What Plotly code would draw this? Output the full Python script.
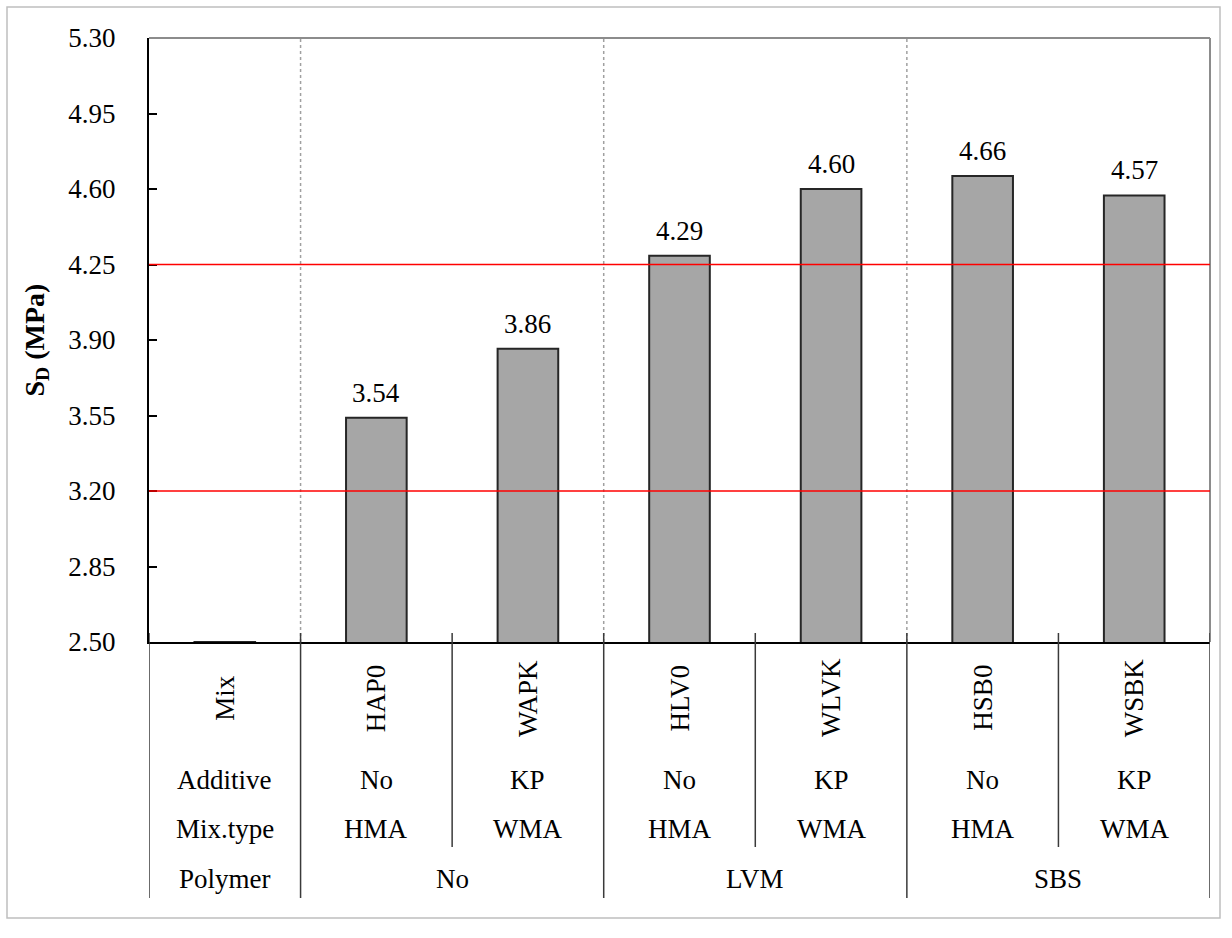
import plotly.graph_objects as go

# ---- data ----
mixes = ["Mix", "HAP0", "WAPK", "HLV0", "WLVK", "HSB0", "WSBK"]
sd_values = [2.50, 3.54, 3.86, 4.29, 4.60, 4.66, 4.57]
value_labels = ["", "3.54", "3.86", "4.29", "4.60", "4.66", "4.57"]
additive = ["Additive", "No", "KP", "No", "KP", "No", "KP"]
mix_type = ["Mix.type", "HMA", "WMA", "HMA", "WMA", "HMA", "WMA"]
polymer_header = "Polymer"
polymer_groups = ["No", "LVM", "SBS"]
reference_levels = [3.20, 4.25]
y_ticks = [2.50, 2.85, 3.20, 3.55, 3.90, 4.25, 4.60, 4.95, 5.30]

# ---- geometry (pixels of the 1232x938 canvas) ----
W, H = 1232, 938
PL, PR, PT, PB = 149, 1210, 38, 642
PH = PB - PT
PW = PR - PL


def py(ypx):
    return (PB - ypx) / PH


def px(xpx):
    return (xpx - PL) / PW


FONT = "Liberation Serif, Times New Roman, serif"
FS = 27
n = len(mixes)
xs = list(range(n))

fig = go.Figure()
fig.add_trace(go.Bar(
    x=xs, y=sd_values, width=0.40,
    marker=dict(color="#A6A6A6", line=dict(color="#262626", width=2)),
    hoverinfo="skip", showlegend=False,
))

shapes = []
annotations = []

# outer chart border
shapes.append(dict(type="rect", xref="paper", yref="paper",
                   x0=px(7), x1=px(1220), y0=py(918), y1=py(7),
                   line=dict(color="#BFBFBF", width=1.5), layer="below"))

# plot area gray top / right border
shapes.append(dict(type="line", xref="paper", yref="paper", x0=0, x1=1, y0=1, y1=1,
                   line=dict(color="#8C8C8C", width=2)))
shapes.append(dict(type="line", xref="paper", yref="paper", x0=1, x1=1, y0=0, y1=1,
                   line=dict(color="#8C8C8C", width=2)))

# dotted group separators
for b in [0.5, 2.5, 4.5]:
    shapes.append(dict(type="line", xref="x", yref="paper", x0=b, x1=b, y0=0, y1=1,
                       line=dict(color="#A0A0A0", width=1.5, dash="dot"), layer="below"))

# red reference lines
for lv in reference_levels:
    shapes.append(dict(type="line", xref="paper", yref="y", x0=0, x1=1, y0=lv, y1=lv,
                       line=dict(color="#FF0000", width=1.5), layer="above"))

# table lines
TBL = "#3A3A3A"
for b in [-0.5, 0.5, 2.5, 4.5, 6.5]:
    shapes.append(dict(type="line", xref="x", yref="paper", x0=b, x1=b,
                       y0=py(898), y1=py(633),
                       line=dict(color=TBL, width=1.5)))
for b in [1.5, 3.5, 5.5]:
    shapes.append(dict(type="line", xref="x", yref="paper", x0=b, x1=b,
                       y0=py(847), y1=py(633),
                       line=dict(color=TBL, width=1.5)))

txt_font = dict(family=FONT, size=FS, color="#000")

# value labels
for i, (v, t) in enumerate(zip(sd_values, value_labels)):
    if t:
        annotations.append(dict(x=i, y=v, xref="x", yref="y", text=t, showarrow=False,
                                yanchor="bottom", yshift=8, font=txt_font))

# rotated mix names
for i, m in enumerate(mixes):
    annotations.append(dict(x=i, y=py(698), xref="x", yref="paper", text=m,
                            showarrow=False, textangle=-90,
                            xanchor="center", yanchor="middle", font=txt_font))
# additive / mix type rows
for i, a in enumerate(additive):
    annotations.append(dict(x=i, y=py(780), xref="x", yref="paper", text=a,
                            showarrow=False, xanchor="center", yanchor="middle", font=txt_font))
for i, m in enumerate(mix_type):
    annotations.append(dict(x=i, y=py(829), xref="x", yref="paper", text=m,
                            showarrow=False, xanchor="center", yanchor="middle", font=txt_font))
# polymer row
annotations.append(dict(x=0, y=py(879), xref="x", yref="paper", text=polymer_header,
                        showarrow=False, xanchor="center", yanchor="middle", font=txt_font))
for g, name in enumerate(polymer_groups):
    annotations.append(dict(x=1.5 + 2 * g, y=py(879), xref="x", yref="paper", text=name,
                            showarrow=False, xanchor="center", yanchor="middle", font=txt_font))

fig.update_layout(
    width=W, height=H,
    margin=dict(l=PL, r=W - PR, t=PT, b=H - PB, pad=0),
    paper_bgcolor="white", plot_bgcolor="white",
    font=dict(family=FONT, size=FS, color="#000"),
    bargap=0.6,
    shapes=shapes, annotations=annotations,
    xaxis=dict(range=[-0.5, 6.5], showticklabels=False, ticks="", showgrid=False,
               zeroline=False, showline=True, linecolor="#000", linewidth=2),
    yaxis=dict(range=[2.5, 5.3], tickvals=y_ticks, ticktext=[f"{t:.2f}" for t in y_ticks],
               ticks="inside", ticklen=8, tickcolor="#000", tickwidth=1.5,
               showline=True, linecolor="#000", linewidth=2, showgrid=False, zeroline=False,
               ticklabelstandoff=26,
               tickfont=dict(family=FONT, size=FS, color="#000"),
               title=dict(text="<b>S<sub>D</sub> (MPa)</b>", standoff=16,
                          font=dict(family=FONT, size=28, color="#000"))),
)

fig.write_html("out.html", config={"displayModeBar": False},
               post_script="document.body.style.margin='0';document.body.style.overflow='hidden';")
